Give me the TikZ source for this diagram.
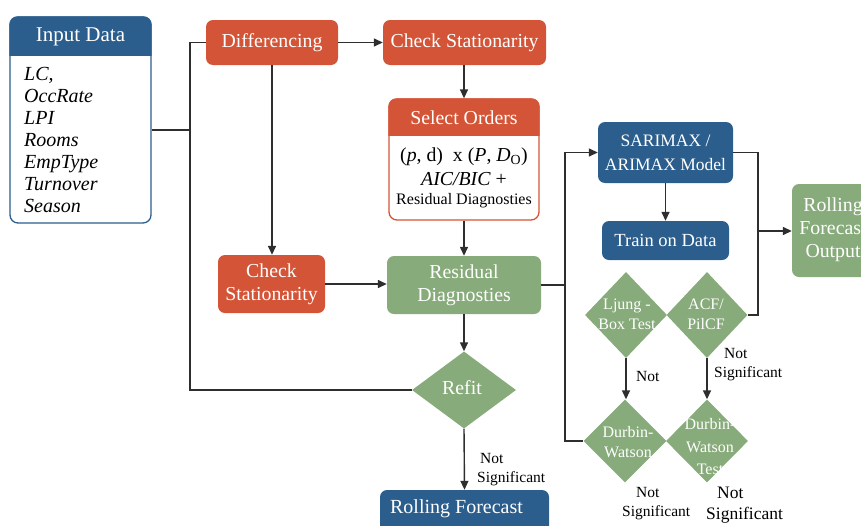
\documentclass[tikz,border=0pt]{standalone}
\usepackage{fontspec}
\setmainfont{Liberation Serif}
\usetikzlibrary{shapes.geometric,arrows.meta,calc}
\definecolor{cOr}{HTML}{D35436}
\definecolor{cBl}{HTML}{2B5E8D}
\definecolor{cGr}{HTML}{87AB7A}
\definecolor{cLn}{HTML}{2E2E2E}
\newcommand\myfA{\fontsize{19.8}{23}\selectfont}
\newcommand\myfB{\fontsize{16}{20.5}\selectfont}
\newcommand\myfC{\fontsize{15.5}{19}\selectfont}
\tikzset{
  box/.style={rounded corners=7pt, text=white, align=center, inner sep=0pt, font=\myfA},
  obox/.style={box, fill=cOr},
  bbox/.style={box, fill=cBl},
  gbox/.style={box, fill=cGr},
  dia/.style={diamond, fill=cGr, inner sep=0pt},
  dtext/.style={text=white, align=center, inner sep=0pt, font=\myfB},
  conn/.style={draw=cLn, line width=1.4pt},
  arr/.style={conn, -{Triangle[length=9pt,width=8pt]}},
  lbl/.style={text=black, align=left, inner sep=0pt, font=\myfC, anchor=west},
}
\begin{document}
\begin{tikzpicture}[x=1pt,y=-1pt]
\useasboundingbox (0,0) rectangle (861,525);
% Input Data
\node[draw=cBl, line width=1.3pt, fill=white, rounded corners=8pt, minimum width=141pt, minimum height=206pt, inner sep=0pt] (inp) at (80.5,120) {};
\begin{scope}
  \clip (0,0) rectangle (200,55);
  \fill[cBl, rounded corners=8pt] (inp.north west) rectangle (inp.south east);
\end{scope}
\node[text=white, font=\fontsize{21}{24}\selectfont, inner sep=0pt] (inpT) at (80.5,37) {Input Data};
\node[anchor=west, align=left, inner sep=0pt, font=\fontsize{20}{22}\selectfont\itshape] (inpL) at (24,139.5)
  {LC,\\OccRate\\LPI\\Rooms\\EmpType\\Turnover\\Season};
% top row
\node[obox, minimum width=132pt, minimum height=45pt] (dif) at (272,42.5) {Differencing};
\node[obox, minimum width=163pt, minimum height=45pt] (cs1) at (464.5,42.5) {Check Stationarity};
% Select Orders
\node[draw=cOr, line width=1.3pt, fill=white, rounded corners=8pt, minimum width=150pt, minimum height=121pt, inner sep=0pt] (sel) at (464,159.5) {};
\begin{scope}
  \clip (380,90) rectangle (550,135);
  \fill[cOr, rounded corners=8pt] (sel.north west) rectangle (sel.south east);
\end{scope}
\node[text=white, font=\myfA, inner sep=0pt] (selT) at (464,117.5) {Select Orders};
\node[font=\myfA, inner sep=0pt] (selA) at (464,157) {(\textit{p}, d)\ \ x (\textit{P}, \textit{D}\textsubscript{O})};
\node[font=\myfA, inner sep=0pt] (selB) at (464,179) {\textit{AIC/BIC} +};
\node[font=\myfB, inner sep=0pt] (selC) at (464,201) {Residual Diagnosties};
% middle
\node[obox, minimum width=107pt, minimum height=58pt] (cs2) at (271.5,284) {Check\\Stationarity};
\node[gbox, minimum width=154pt, minimum height=58pt] (res) at (464,285) {Residual\\Diagnosties};
\node[dia, minimum width=104pt, minimum height=77pt] (refit) at (464,390) {};
\node[text=white, font=\myfA, inner sep=0pt] (refitT) at (462,388) {Refit};
\node[bbox, minimum width=169pt, minimum height=46pt] (rf) at (464.5,513) {};
\node[text=white, font=\fontsize{20}{23}\selectfont, inner sep=0pt] (rfT) at (456.5,508.5) {Rolling Forecast};
% right part
\node[bbox, minimum width=135pt, minimum height=61pt, font=\fontsize{17.5}{24}\selectfont] (sar) at (665.5,152.5) {SARIMAX /\\ARIMAX Model};
\node[bbox, minimum width=127pt, minimum height=39pt, font=\fontsize{18.5}{22}\selectfont] (tr) at (665.5,240.5) {Train on Data};
\node[gbox, minimum width=90pt, minimum height=93pt] (out) at (837,230.5) {};
\node[text=white, font=\myfA, align=center, inner sep=0pt] (outT) at (833,230) {Rolling\\Forecast\\Output};
\node[dia, minimum width=82pt, minimum height=86pt] (lj) at (626,315) {};
\node[dtext] (ljT) at (627,314.5) {Ljung -\\Box Test};
\node[dia, minimum width=81pt, minimum height=86pt] (acf) at (707,315) {};
\node[dtext] (acfT) at (706,314.5) {ACF/\\PilCF};
\node[dia, minimum width=83pt, minimum height=83pt] (dw1) at (625,441) {};
\node[dtext] (dw1T) at (628,442) {Durbin-\\Watson};
\node[dia, minimum width=82pt, minimum height=83pt] (dw2) at (707,441) {};
\node[dtext, font=\fontsize{16}{22.5}\selectfont] (dw2T) at (710,447) {Durbin-\\Watson\\Test};
% labels
\node[lbl] (l1) at (477,469.5) {\hspace{3pt}Not\\Significant};
\node[lbl] (l2) at (636,376) {Not};
\node[lbl] (l3) at (714,365) {\hspace{10pt}Not\\Significant};
\node[lbl] (l4) at (622,503.5) {\hspace{14pt}Not\\Significant};
\node[lbl, font=\fontsize{17.5}{21}\selectfont] (l5) at (706,505) {\hspace{11pt}Not\\Significant};
% junctions
\coordinate (jM) at (190,130);
\coordinate (jL) at (190,390);
\coordinate (jR) at (565,285);
\coordinate (jO) at (758,231);
% connectors
\draw[conn] (jM -| inp.east) -- (jM);
\draw[conn] (dif.west) -| (jL) -- (refit.west);
\draw[arr] (dif.east) -- (cs1.west);
\draw[arr] (cs1.south -| sel.north) -- (sel.north);
\draw[arr] (dif.south) -- (dif.south |- cs2.north);
\draw[arr] (cs2.east) -- (cs2.east -| res.west);
\draw[arr] (sel.south) -- (res.north);
\draw[arr] (res.south) -- (refit.north);
\draw[arr] (refit.south) -- (rf.north);
\draw[arr] (res.east) -- (jR) |- (sar.west);
\draw[conn] (jR) |- (dw1.west);
\draw[arr] (sar.south) -- (tr.north);
\draw[conn] (sar.east) -| (jO) |- (acf.east);
\draw[arr] (jO) -- (jO -| out.west);
\draw[arr] (lj.south) -- (lj.south |- dw1.north);
\draw[arr] (acf.south) -- (acf.south |- dw2.north);
\end{tikzpicture}
\end{document}
